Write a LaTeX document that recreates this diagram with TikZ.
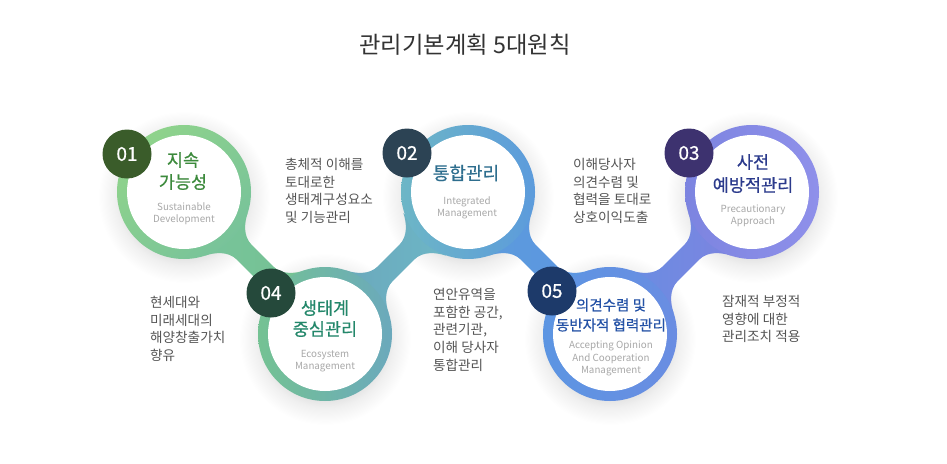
\documentclass[tikz,border=0pt]{standalone}
\usepackage{fontspec}
\setmainfont{Noto Sans CJK KR}
\newfontfamily\kormed[FakeBold=0.5]{Noto Sans CJK KR}
\newfontfamily\nummed[FakeBold=0.6]{Noto Sans CJK KR}
\usetikzlibrary{calc}
\definecolor{ringAL}{HTML}{8FD38B}\definecolor{ringAR}{HTML}{78C39A}
\definecolor{ringDL}{HTML}{74C293}\definecolor{ringDR}{HTML}{6BA9BC}
\definecolor{ringBL}{HTML}{6DB6C6}\definecolor{ringBR}{HTML}{5C9BDC}
\definecolor{ringEL}{HTML}{5C95E2}\definecolor{ringER}{HTML}{6A8DE2}
\definecolor{ringCL}{HTML}{7C84E0}\definecolor{ringCR}{HTML}{8F90EA}
\definecolor{badgeA}{HTML}{3A5C2A}\definecolor{badgeB}{HTML}{2C4354}
\definecolor{badgeC}{HTML}{3D326F}\definecolor{badgeD}{HTML}{25493B}
\definecolor{badgeE}{HTML}{1D3A6A}
\definecolor{labA}{HTML}{3C8A3C}\definecolor{labB}{HTML}{2E6E8E}
\definecolor{labC}{HTML}{2B3A8C}\definecolor{labD}{HTML}{23876A}
\definecolor{labE}{HTML}{2452A6}
\definecolor{engtxt}{HTML}{A8A8A8}\definecolor{desctxt}{HTML}{555555}
\definecolor{titletxt}{HTML}{333333}
\pgfdeclareradialshading{softshadow}{\pgfpoint{0bp}{0bp}}{color(0bp)=(black!11); color(17.5bp)=(black!11); color(20bp)=(black!6); color(25bp)=(white); color(50bp)=(white)}
\newcommand\drawband[4]{%
  \begin{scope}[shift={(#1)}, rotate=#2]
    \shade[left color=#3, right color=#4]
      (59.9,30) .. controls (64.4,21) and (73,10.5) .. (85,10.5)
      -- (115.8,10.5) .. controls (127.8,10.5) and (136.4,21) .. (140.9,30)
      -- (140.9,-30) .. controls (136.4,-21) and (127.8,-10.5) .. (115.8,-10.5)
      -- (85,-10.5) .. controls (73,-10.5) and (64.4,-21) .. (59.9,-30) -- cycle;
  \end{scope}}
\tikzset{
  badgenum/.style={text=white, font=\nummed\fontsize{19}{22}\selectfont},
  kor/.style={align=center, inner sep=0pt},
  eng/.style={align=center, inner sep=0pt, text=engtxt, font=\fontsize{9.8}{12.2}\selectfont},
  desc/.style={align=left, inner sep=0pt, anchor=north west, text=desctxt, font=\fontsize{13.6}{17.7}\selectfont},
}
\begin{document}
\begin{tikzpicture}[x=1pt,y=-1pt]
\useasboundingbox (0,0) rectangle (947,463);
\fill[white] (0,0) rectangle (947,463);
\coordinate (c1) at (184,192);
\coordinate (c2) at (468,192);
\coordinate (c3) at (752,192);
\coordinate (c4) at (325,334);
\coordinate (c5) at (610,334);
% title
\node[text=titletxt, font=\fontsize{23.3}{26}\selectfont, inner sep=0pt] (title) at (465,45) {관리기본계획 5대원칙};
% shadows
\foreach \c in {c1,c2,c3,c4,c5}{
  \shade[shading=softshadow] ($(\c)+(0,5)$) circle (86pt);
}
% bands
\drawband{c1}{-45}{ringAR}{ringDL}
\drawband{c4}{45}{ringDR}{ringBL}
\drawband{c2}{-45}{ringBR}{ringEL}
\drawband{c5}{45}{ringER}{ringCL}
% rings
\shade[left color=ringAL, right color=ringAR, shading angle=45] (c1) circle (67pt);
\shade[left color=ringBL, right color=ringBR] (c2) circle (67pt);
\shade[left color=ringCL, right color=ringCR] (c3) circle (67pt);
\shade[left color=ringDL, right color=ringDR] (c4) circle (67pt);
\shade[left color=ringEL, right color=ringER] (c5) circle (67pt);
\foreach \c in {c1,c2,c3,c4,c5}{
  \fill[white] (\c) circle (57pt);
}
% badges
\fill[badgeA] (127,154) circle (24.5pt);
\node[badgenum] (n1) at (127,154) {01};
\fill[badgeB] (407,153) circle (24.5pt);
\node[badgenum] (n2) at (407,153) {02};
\fill[badgeC] (689,153) circle (24.5pt);
\node[badgenum] (n3) at (689,153) {03};
\fill[badgeD] (271,293) circle (24.5pt);
\node[badgenum] (n4) at (271,293) {04};
\fill[badgeE] (552,291) circle (24.5pt);
\node[badgenum] (n5) at (552,291) {05};
% labels
\node[kor, text=labA, font=\kormed\fontsize{17.5}{22}\selectfont] (k1) at (183,171) {지속\\가능성};
\node[eng] (e1) at (184,213.5) {Sustainable\\Development};
\node[kor, text=labB, font=\kormed\fontsize{18}{22}\selectfont] (k2) at (466,173) {통합관리};
\node[eng] (e2) at (467,208) {Integrated\\Management};
\node[kor, text=labC, font=\kormed\fontsize{17.5}{23}\selectfont] (k3) at (753,173.5) {사전\\예방적관리};
\node[eng] (e3) at (753,216) {Precautionary\\Approach};
\node[kor, text=labD, font=\kormed\fontsize{17.5}{21}\selectfont] (k4) at (325,318.5) {생태계\\중심관리};
\node[eng] (e4) at (325,361) {Ecosystem\\Management};
\node[kor, text=labE, font=\kormed\fontsize{14.5}{20}\selectfont] (k5) at (611,315) {의견수렴 및\\동반자적 협력관리};
\node[eng] (e5) at (611,358.5) {Accepting Opinion\\And Cooperation\\Management};
% descriptions
\node[desc] (d1) at (285,158) {총체적 이해를\\토대로한\\생태계구성요소\\및 기능관리};
\node[desc] (d2) at (150,296) {현세대와\\미래세대의\\해양창출가치\\향유};
\node[desc] (d3) at (433,288) {연안유역을\\포함한 공간,\\관련기관,\\이해 당사자\\통합관리};
\node[desc] (d4) at (573,158) {이해당사자\\의견수렴 및\\협력을 토대로\\상호이익도출};
\node[desc] (d5) at (722,295) {잠재적 부정적\\영향에 대한\\관리조치 적용};
\end{tikzpicture}
\end{document}
